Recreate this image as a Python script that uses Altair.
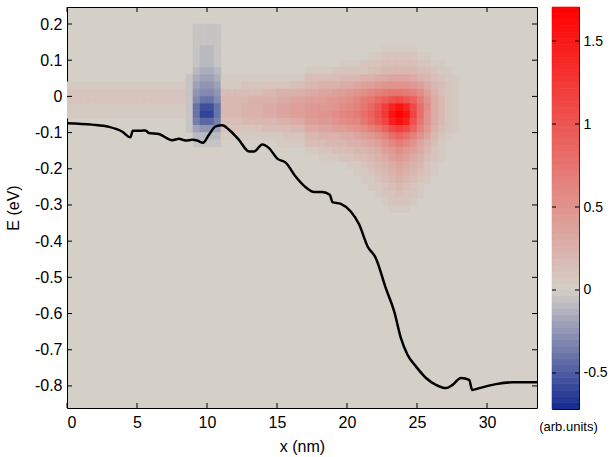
import altair as alt
import pandas as pd
import numpy as np

# ---------------- axes ranges ----------------
x_min, x_max = 0.0, 33.57
y_min, y_max = -0.861, 0.247
c_min, c_max = -0.717, 1.705

x_ticks = [0, 5, 10, 15, 20, 25, 30]
y_ticks = [-0.8, -0.7, -0.6, -0.5, -0.4, -0.3, -0.2, -0.1, 0.0, 0.1, 0.2]
cbar_ticks = [-0.5, 0.0, 0.5, 1.0, 1.5]

# ---------------- band-edge curve ----------------
line_x = [0.0, 1.79, 2.98, 3.93, 4.53, 4.70, 5.25, 5.61, 5.84, 6.56, 7.51, 7.99,
          8.47, 8.94, 9.30, 9.71, 10.14, 10.62, 11.09, 11.57, 12.28, 13.00, 13.36,
          13.95, 14.43, 15.02, 15.62, 16.34, 17.05, 17.65, 18.24, 18.77, 18.96,
          19.56, 20.27, 20.87, 21.46, 22.06, 22.77, 23.37, 23.85, 24.32, 24.92,
          25.64, 26.35, 27.07, 27.54, 28.14, 28.73, 28.93, 29.45, 30.64, 31.83, 33.57]
line_y = [-0.074, -0.078, -0.084, -0.097, -0.113, -0.095, -0.095, -0.094, -0.101,
          -0.104, -0.121, -0.117, -0.122, -0.120, -0.122, -0.128, -0.106, -0.083,
          -0.080, -0.092, -0.120, -0.152, -0.152, -0.133, -0.143, -0.172, -0.183,
          -0.222, -0.251, -0.264, -0.264, -0.272, -0.292, -0.297, -0.318, -0.354,
          -0.414, -0.447, -0.530, -0.594, -0.668, -0.714, -0.746, -0.778, -0.797,
          -0.806, -0.797, -0.778, -0.783, -0.811, -0.806, -0.795, -0.790, -0.790]

# ---------------- field ----------------
# grid: columns of 0.5 nm starting at x=0; rows of 0.02 eV centred at row_y
col_width = 0.5
row_height = 0.02
row_y = [0.21, 0.19, 0.17, 0.15, 0.13, 0.11, 0.09, 0.07, 0.05, 0.03, 0.01, -0.01,
         -0.03, -0.05, -0.07, -0.09, -0.11, -0.13, -0.15, -0.17, -0.19, -0.21,
         -0.23, -0.25, -0.27, -0.29, -0.31, -0.33]
# level codes: '.'=0, '1'..'Z' = +0.05 steps, 'a'..'n' = -0.05 steps
field_left = [  # columns 0-16 (x 0 - 8.5 nm)
    "..... ..... ..... ..", "..... ..... ..... ..", "..... ..... ..... ..", "..... ..... ..... ..",
    "..... ..... ..... ..", "..... ..... ..... ..", "..... ..... ..... ..", "..... ..... ..... ..",
    "..... ..... ..... ..", "11111 11111 11111 11", "22222 22222 22222 22", "22222 22222 22222 22",
    "11111 11111 11111 11", "11111 11111 11111 11", "..... ..... ..... ..", "..... ..... ..... ..",
    "..... ..... ..... ..", "..... ..... ..... ..", "..... ..... ..... ..", "..... ..... ..... ..",
    "..... ..... ..... ..", "..... ..... ..... ..", "..... ..... ..... ..", "..... ..... ..... ..",
    "..... ..... ..... ..", "..... ..... ..... ..", "..... ..... ..... ..", "..... ..... ..... ..",
]
field_blob = [  # columns 17-21 (x 8.5 - 11 nm)
    ".....", ".aaaa", ".aaaa", ".aaaa", ".abba", ".abba", ".abba", ".bccb",
    "acddc", "adeed", "aeffe", "afhhf", "ahkkh", "ahllh", "agiig", "adeed",
    ".bbbb", ".aaaa", ".....", ".....", ".....", ".....", ".....", ".....",
    ".....", ".....", ".....", ".....",
]
field_right = [  # columns 22-56 (x 11 - 28.5 nm)
    "..... ..... ..... ..... ..... ..... .....",
    "..... ..... ..... ..... ..... ..... .....",
    "..... ..... ..... ..... ..... ..... .....",
    "..... ..... ..... ..... ..... ..... .....",
    "..... ..... ..... ..... ...11 111.. .....",
    "..... ..... ..... ..... .1122 22211 .....",
    "..... ..... ..... ..111 22233 33322 11...",
    "..... ..... ..111 12222 23344 44433 211..",
    "11111 11111 11333 33444 55667 77654 3211.",
    "11122 22222 33445 55667 889AA AA986 4321.",
    "33333 34455 55667 7889A BCDEF FEDB8 5321.",
    "44445 55566 77888 99ABC EFHJL MKIEA 6421.",
    "44455 56677 88999 9ABCD FHKOS VSMGB 6421.",
    "44455 56677 8899A ABCDE GILPV YVNGA 6421.",
    "33344 44455 66889 9ABCC FHKNT WTLFA 6421.",
    "22222 23333 44667 7889A BDFIM OMID9 5321.",
    "11111 11112 22445 55667 89BDG IGDA7 421..",
    "..... ...11 11333 44455 678AC ECA75 31...",
    "..... ..... ..112 23334 45689 B9864 21...",
    "..... ..... ....1 11223 34568 98653 21...",
    "..... ..... ..... ...11 23456 76542 1....",
    "..... ..... ..... ....1 12345 65432 1....",
    "..... ..... ..... ..... 11234 54321 .....",
    "..... ..... ..... ..... .1123 4321. .....",
    "..... ..... ..... ..... ..122 3221. .....",
    "..... ..... ..... ..... ...12 221.. .....",
    "..... ..... ..... ..... ....1 11... .....",
    "..... ..... ..... ..... ..... ..... .....",
]

POS = "0123456789ABCDEFGHIJKLMNOPQRSTUVWXYZ"
NEG = "abcdefghijklmnop"


def level(ch):
    if ch == ".":
        return None
    if ch in NEG:
        return -(NEG.index(ch) + 1) * 0.05
    return POS.index(ch) * 0.05


cells = []
for j, yc in enumerate(row_y):
    row = (field_left[j] + field_blob[j] + field_right[j]).replace(" ", "")
    for i, ch in enumerate(row):
        v = level(ch)
        if v is None:
            continue
        cells.append({"x0": i * col_width, "x1": (i + 1) * col_width,
                      "y0": yc - row_height / 2, "y1": yc + row_height / 2, "v": v})
cells_df = pd.DataFrame(cells)
line_df = pd.DataFrame({"x": line_x, "y": line_y, "i": list(range(len(line_x)))})

# ---------------- styling ----------------
FONT = "Liberation Sans"
BG = "#d4d0c8"
BLUE = "#13298f"
RED = "#ff0000"
W, H = 470, 401
CB_W, CB_H = 27, 402

xs = alt.Scale(domain=[x_min, x_max], nice=False, zero=False)
ys = alt.Scale(domain=[y_min, y_max], nice=False, zero=False)
cs = alt.Scale(domain=[c_min, 0, c_max], range=[BLUE, BG, RED], interpolate="rgb", clamp=True)

lab = "toString(round(datum.value*10)/10)"

ax_x = alt.Axis(values=x_ticks, labelExpr=lab, title="x (nm)", labelFontSize=16,
                titleFontSize=16, labelPadding=6, titlePadding=8, titleFontWeight="normal")
ax_y = alt.Axis(values=y_ticks, labelExpr=lab, title="E (eV)", labelFontSize=16,
                titleFontSize=16, labelPadding=5, titlePadding=13, titleFontWeight="normal")

heat = alt.Chart(cells_df).mark_rect(clip=True, strokeWidth=0.6).encode(
    x=alt.X("x0:Q", scale=xs, axis=ax_x, title="x (nm)"),
    x2="x1:Q",
    y=alt.Y("y0:Q", scale=ys, axis=ax_y, title="E (eV)"),
    y2="y1:Q",
    color=alt.Color("v:Q", scale=cs, legend=None),
    stroke=alt.Stroke("v:Q", scale=cs, legend=None),
)

curve = alt.Chart(line_df).mark_line(color="black", strokeWidth=2.5, clip=True,
                                     interpolate="monotone").encode(
    x=alt.X("x:Q", scale=xs, axis=ax_x, title="x (nm)"),
    y=alt.Y("y:Q", scale=ys, axis=ax_y, title="E (eV)"),
    order=alt.Order("i:Q"),
)

xt_df = pd.DataFrame({"t": x_ticks})
yt_df = pd.DataFrame({"t": y_ticks})
tk = dict(color="black", strokeWidth=1)
t_bottom = alt.Chart(xt_df).mark_rule(**tk).encode(
    x=alt.X("t:Q", scale=xs, axis=ax_x, title="x (nm)"), y=alt.value(H), y2=alt.value(H - 5))
t_top = alt.Chart(xt_df).mark_rule(**tk).encode(
    x=alt.X("t:Q", scale=xs, axis=ax_x, title="x (nm)"), y=alt.value(0), y2=alt.value(5))
t_left = alt.Chart(yt_df).mark_rule(**tk).encode(
    y=alt.Y("t:Q", scale=ys, axis=ax_y, title="E (eV)"), x=alt.value(0), x2=alt.value(5))
t_right = alt.Chart(yt_df).mark_rule(**tk).encode(
    y=alt.Y("t:Q", scale=ys, axis=ax_y, title="E (eV)"), x=alt.value(W), x2=alt.value(W - 5))

main = alt.layer(heat, curve, t_bottom, t_top, t_left, t_right).properties(width=W, height=H)

# ---------------- colour bar ----------------
n_bands = 64
edges = np.linspace(c_min, c_max, n_bands + 1)
cb_df = pd.DataFrame({"lo": edges[:-1], "hi": edges[1:], "mid": (edges[:-1] + edges[1:]) / 2})
cbs = alt.Scale(domain=[c_min, c_max], nice=False, zero=False)
ax_cb = alt.Axis(orient="right", values=cbar_ticks, labelExpr=lab, labelFontSize=14,
                 labelPadding=4, title=None)

cb_rect = alt.Chart(cb_df).mark_rect(strokeWidth=0.6).encode(
    y=alt.Y("lo:Q", scale=cbs, axis=ax_cb, title=None),
    y2="hi:Q",
    x=alt.value(0), x2=alt.value(CB_W),
    color=alt.Color("mid:Q", scale=cs, legend=None),
    stroke=alt.Stroke("mid:Q", scale=cs, legend=None),
)
ct_df = pd.DataFrame({"t": cbar_ticks})
cb_tl = alt.Chart(ct_df).mark_rule(**tk).encode(
    y=alt.Y("t:Q", scale=cbs, axis=ax_cb, title=None), x=alt.value(0), x2=alt.value(4))
cb_tr = alt.Chart(ct_df).mark_rule(**tk).encode(
    y=alt.Y("t:Q", scale=cbs, axis=ax_cb, title=None), x=alt.value(CB_W), x2=alt.value(CB_W - 4))

cbar = alt.layer(cb_rect, cb_tl, cb_tr).properties(
    width=CB_W, height=CB_H,
    title=alt.TitleParams("(arb.units)", orient="bottom", fontSize=13, fontWeight="normal",
                          anchor="middle", frame="group", offset=12, dx=3, font=FONT),
)

chart = alt.hconcat(main, cbar, spacing=0).resolve_scale(
    x="independent", y="independent"
).properties(
    padding={"left": 4, "top": 6, "right": 0, "bottom": 0}
).configure(font=FONT).configure_view(
    stroke="black", strokeWidth=1, fill=BG
).configure_axis(
    grid=False, domain=False, ticks=False, labelColor="black", titleColor="black"
)

chart.save("out.html", embed_options={"renderer": "svg", "actions": False})
